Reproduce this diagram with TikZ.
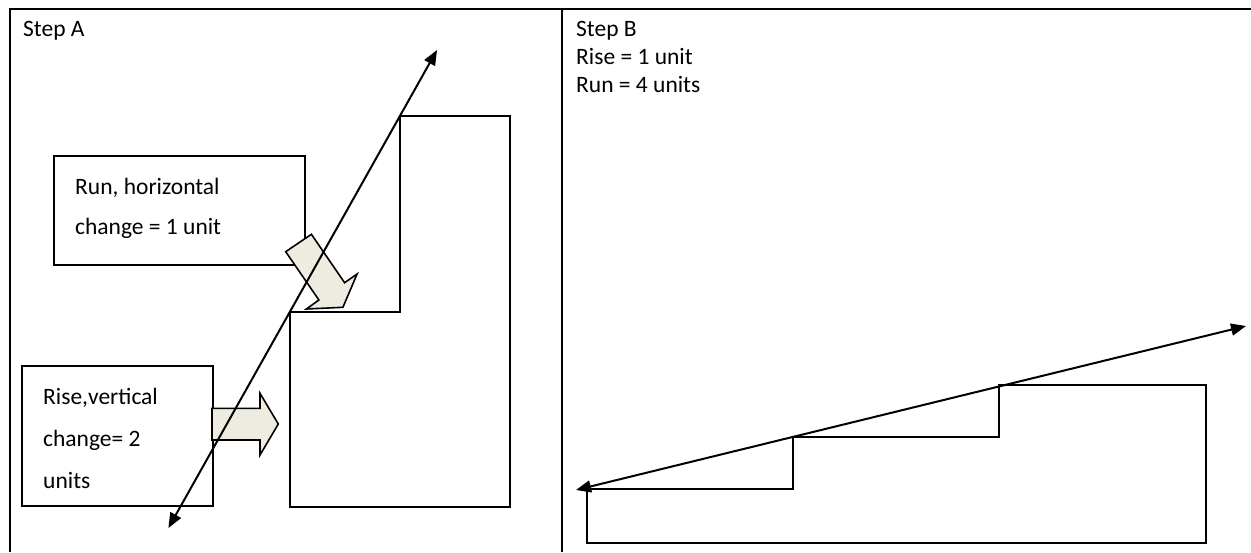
\documentclass[tikz,border=0pt]{standalone}
\usepackage{fontspec}
\setmainfont{Carlito}
\usetikzlibrary{arrows.meta}
\definecolor{beige}{HTML}{EEECE1}
\begin{document}
\begin{tikzpicture}[x=1pt,y=-1pt,
  frameline/.style={line width=2pt},
  stairline/.style={draw, line width=1.6pt, line join=miter},
  boxnode/.style={draw, line width=1.6pt, inner sep=0pt, anchor=north west, fill=white},
  txt/.style={anchor=base west, inner sep=0pt, font=\fontsize{23.5}{28}\selectfont},
  blockarrow/.style={draw, fill=beige, line width=1.6pt, line join=miter},
  slope/.style={line width=2pt, {Triangle[length=15pt,width=12pt]}-{Triangle[length=15pt,width=12pt]}}
]
\useasboundingbox (0,0) rectangle (1251,552);
% table frame
\draw[frameline] (9.5,552) -- (9.5,8.5) -- (1251,8.5);
\draw[frameline] (562,8.5) -- (562,552);
% ---------- Step A ----------
\node[txt] (stepA) at (23,36) {Step A};
\draw[stairline] (290,507) -- (290,311.7) -- (400,311.7) -- (400,116) -- (510,116) -- (510,507) -- cycle;
\node[boxnode, minimum width=251pt, minimum height=109pt] (runbox) at (53,155) {};
\node[boxnode, minimum width=191pt, minimum height=140pt] (risebox) at (21,365) {};
\node[txt] (run1) at (75,194) {Run, horizontal};
\node[txt] (run2) at (75,234) {change = 1 unit};
\node[txt] (rise1) at (43,404) {Rise,vertical};
\node[txt] (rise2) at (43,446) {change= 2};
\node[txt] (rise3) at (43,488) {units};
% block arrows
\draw[blockarrow] (285.7,251.7) -- (311.4,234.3) -- (344.6,282.7) -- (357.1,274) -- (342.9,307.3) -- (306.4,309) -- (318.9,300) -- cycle;
\draw[blockarrow] (212,408.3) -- (260,408.3) -- (260,393.3) -- (278.3,424) -- (260,455) -- (260,440) -- (212,440) -- cycle;
% slope line A
\coordinate (a1) at (168.4,528);
\coordinate (a2) at (437,50);
\draw[slope] (a1) -- (a2);
% ---------- Step B ----------
\node[txt] (stepB) at (576,36) {Step B};
\node[txt] (riseB) at (576,64) {Rise = 1 unit};
\node[txt] (runB) at (576,92) {Run = 4 units};
\draw[stairline] (587,543) -- (587,489) -- (793,489) -- (793,437) -- (999,437) -- (999,385) -- (1206,385) -- (1206,543) -- cycle;
\coordinate (b1) at (576,490);
\coordinate (b2) at (1246,326);
\draw[slope] (b1) -- (b2);
\end{tikzpicture}
\end{document}
